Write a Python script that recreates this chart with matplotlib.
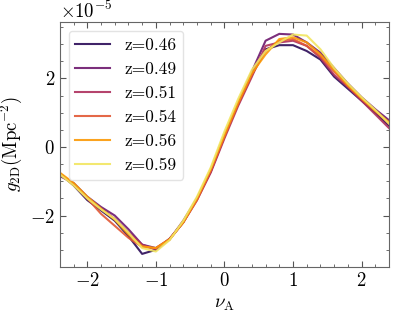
import numpy as np
import matplotlib
matplotlib.use('Agg')
import matplotlib.pyplot as plt
from matplotlib.ticker import MultipleLocator

plt.rcParams['font.family'] = 'serif'
plt.rcParams['font.serif'] = ['cmr10', 'DejaVu Serif']
plt.rcParams['mathtext.fontset'] = 'cm'
plt.rcParams['axes.formatter.use_mathtext'] = True
plt.rcParams['font.size'] = 13.5

# nu_A grid and g_2D values (units of 1e-5 Mpc^-2)
nu = np.round(np.arange(-2.4, 2.41, 0.2), 2)
labels = ['z=0.46', 'z=0.49', 'z=0.51', 'z=0.54', 'z=0.56', 'z=0.59']
g_046 = [-0.78, -1.12, -1.55, -1.85, -2.15, -2.6, -3.12, -3.0, -2.68, -2.2, -1.5, -0.7, 0.35,
         1.25, 2.1, 2.85, 2.97, 2.97, 2.8, 2.55, 2.05, 1.7, 1.35, 1.0, 0.62]
g_049 = [-0.85, -1.05, -1.45, -1.75, -2.0, -2.4, -2.85, -2.95, -2.7, -2.15, -1.5, -0.72, 0.3,
         1.3, 2.2, 3.1, 3.3, 3.28, 3.05, 2.75, 2.3, 1.85, 1.45, 1.1, 0.78]
g_051 = [-0.8, -1.1, -1.5, -1.8, -2.1, -2.5, -2.85, -3.0, -2.7, -2.2, -1.55, -0.75, 0.25,
         1.2, 2.05, 2.95, 3.05, 3.1, 2.95, 2.6, 2.1, 1.75, 1.35, 0.95, 0.55]
g_054 = [-0.78, -1.08, -1.5, -1.95, -2.3, -2.65, -2.92, -2.95, -2.68, -2.2, -1.55, -0.7, 0.3,
         1.25, 2.1, 2.8, 3.1, 3.15, 2.95, 2.65, 2.2, 1.78, 1.4, 1.05, 0.68]
g_056 = [-0.75, -1.05, -1.45, -1.8, -2.12, -2.55, -2.9, -2.95, -2.7, -2.2, -1.5, -0.65, 0.35,
         1.3, 2.15, 2.7, 3.15, 3.2, 3.05, 2.7, 2.25, 1.8, 1.42, 1.05, 0.72]
g_059 = [-0.8, -1.12, -1.5, -1.82, -2.1, -2.5, -2.95, -3.05, -2.72, -2.15, -1.45, -0.6, 0.45,
         1.4, 2.25, 2.8, 3.05, 3.28, 3.25, 2.85, 2.3, 1.85, 1.45, 1.08, 0.68]
series = [g_046, g_049, g_051, g_054, g_056, g_059]

colors = plt.cm.inferno(np.linspace(0.15, 0.93, len(series)))

fig = plt.figure(figsize=(3.99, 3.17), dpi=100)
ax = fig.add_axes([0.150, 0.158, 0.825, 0.773])
for vals, lab, c in zip(series, labels, colors):
    ax.plot(nu, np.array(vals) * 1e-5, color=c, lw=1.5, alpha=0.9, label=lab)

ax.set_xlim(-2.4, 2.4)
ax.set_ylim(-3.5e-5, 3.65e-5)
ax.xaxis.set_major_locator(MultipleLocator(1))
ax.xaxis.set_minor_locator(MultipleLocator(0.2))
ax.yaxis.set_major_locator(MultipleLocator(2e-5))
ax.yaxis.set_minor_locator(MultipleLocator(0.5e-5))
ax.tick_params(which='both', direction='in', top=True, right=True, colors='#555555',
               labelcolor='black')
ax.tick_params(which='major', length=4)
ax.tick_params(which='minor', length=2)
for s in ax.spines.values():
    s.set_color('#666666')

ax.set_xlabel(r'$\nu_{\rm A}$')
ax.set_ylabel(r'$g_{\rm 2D}({\rm Mpc^{-2}})$')
ax.legend(loc='upper left', fontsize=12.5, framealpha=0.8, edgecolor='#dddddd')

fig.savefig('out.png', dpi=100)
